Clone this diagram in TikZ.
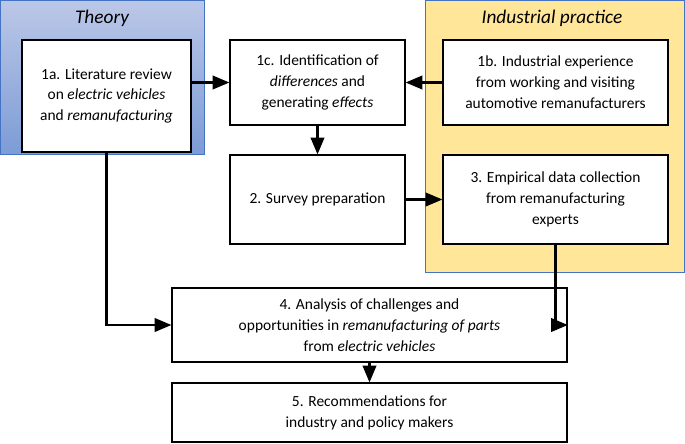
\documentclass[tikz,border=0pt]{standalone}
\usepackage{fontspec}
\setmainfont{Carlito}
\usetikzlibrary{arrows,calc,positioning}
\definecolor{TheoryBlue}{HTML}{8FA2D8}
\definecolor{PracticeYellow}{HTML}{FFE699}
\definecolor{FrameBlue}{HTML}{4472C4}
\tikzset{
  stage/.style={draw,thick,fill=white,align=center,inner sep=2pt,
    font=\fontsize{8.8}{11.9}\selectfont},
  flow/.style={->,>=triangle 45,very thick}
}
\begin{document}
\begin{tikzpicture}[x=0.02cm,y=-0.02cm]
  \useasboundingbox (0,0) rectangle (685,443);
  % background areas
  \shade[top color=TheoryBlue!60,bottom color=FrameBlue!70,draw=FrameBlue] (0,0) rectangle (204,154);
  \node[font=\fontsize{11}{13}\selectfont\itshape] (theory) at (102,18) {Theory};
  \fill[PracticeYellow] (425,0) rectangle (684,272);
  \draw[FrameBlue] (425,0) rectangle (684,272);
  \node[font=\fontsize{11}{13}\selectfont\itshape] (practice) at (552,18) {Industrial practice};

  \node[stage,minimum width=169*0.02cm,minimum height=112*0.02cm] (a) at (106.5,96)
    {1a. Literature review\\on \emph{electric vehicles}\\and \emph{remanufacturing}};
  \node[stage,minimum width=175*0.02cm,minimum height=85*0.02cm] (c) at (317.5,82.5)
    {1c. Identification of\\\emph{differences} and\\generating \emph{effects}};
  \node[stage,minimum width=225*0.02cm,minimum height=85*0.02cm] (b) at (555.5,82.5)
    {1b. Industrial experience\\from working and visiting\\automotive remanufacturers};
  \node[stage,minimum width=175*0.02cm,minimum height=89*0.02cm] (s) at (317.5,199.5)
    {2. Survey preparation};
  \node[stage,minimum width=225*0.02cm,minimum height=89*0.02cm] (e) at (555.5,199.5)
    {3. Empirical data collection\\from remanufacturing\\experts};
  \node[stage,minimum width=395*0.02cm,minimum height=74*0.02cm] (an) at (369.5,325)
    {4. Analysis of challenges and\\opportunities in \emph{remanufacturing of parts}\\from \emph{electric vehicles}};
  \node[stage,minimum width=395*0.02cm,minimum height=59*0.02cm] (r) at (369.5,412.5)
    {5. Recommendations for\\industry and policy makers};

  \draw[flow] (a.east |- c) -- (c);
  \draw[flow] (b) -- (c);
  \draw[flow] (c) -- (s);
  \draw[flow] (s) -- (e);
  \draw[flow] (a) |- (an);
  \draw[flow] (e) |- (an);
  \draw[flow] (an) -- (r);
\end{tikzpicture}
\end{document}
